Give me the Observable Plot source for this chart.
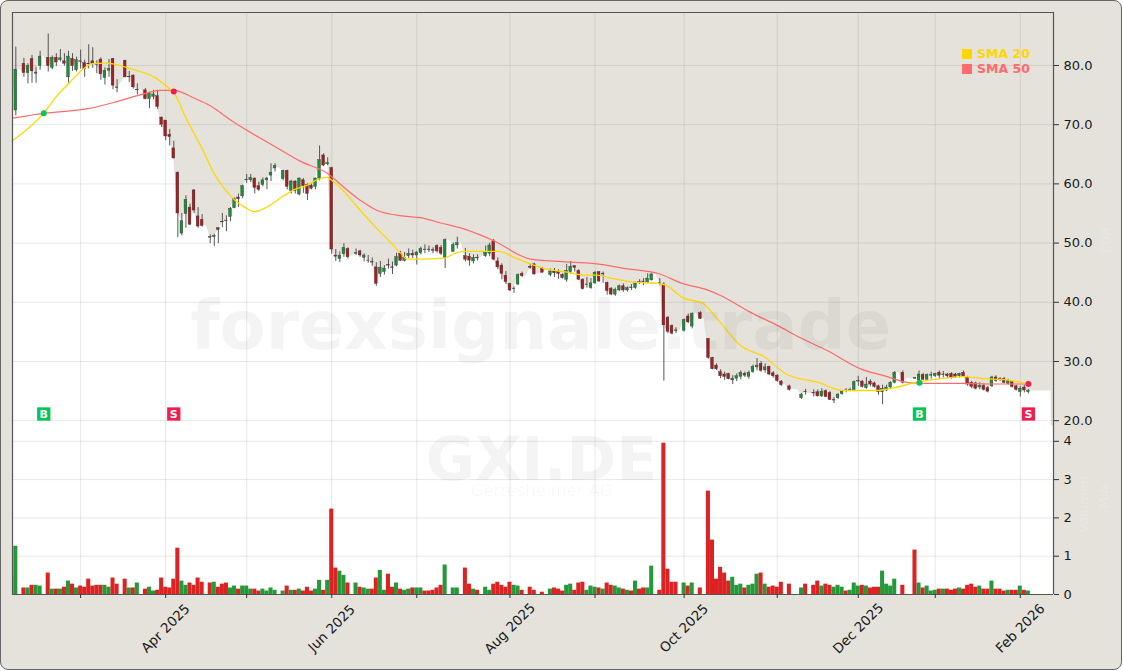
<!DOCTYPE html>
<html>
<head>
<meta charset="utf-8">
<script src="https://cdn.jsdelivr.net/npm/d3@7"></script>
<script src="https://cdn.jsdelivr.net/npm/@observablehq/plot@0.6"></script>
<style>
html,body{margin:0;padding:0;background:#fff;}
#chart{position:relative;width:1123px;height:671px;overflow:hidden;background:#fff;}
#panel{position:absolute;left:0;top:0;width:1120px;height:668px;background:#E5E2DC;border:1.5px solid #666;border-radius:8px;}
#chart svg{position:absolute;left:0;top:0;background:transparent;}
.lg{position:absolute;left:962px;font:bold 12.5px "DejaVu Sans",sans-serif;line-height:15px;white-space:pre;z-index:5;}
.lg i{display:inline-block;width:9.5px;height:10px;margin-right:5.5px;vertical-align:-1px;}
</style>
</head>
<body>
<div id="chart"><div id="panel"></div></div>
<script>
const opens = [
71.0,72.4,79.3,80.3,78.7,81.1,78.6,79.9,81.5,81.3,
79.6,81.3,80.9,80.7,78.0,81.1,79.2,80.7,80.4,80.3,
80.7,80.2,81.0,77.9,79.1,81.1,76.3,77.1,80.8,78.0,
78.3,75.8,75.9,75.8,74.3,74.7,74.8,71.2,70.7,68.3,
66.0,61.9,51.6,54.9,56.0,58.9,54.5,53.9,53.0,51.0,
51.0,52.5,53.6,53.8,54.4,55.9,57.7,57.9,60.6,60.6,
60.9,59.6,59.8,60.6,61.4,62.6,62.7,60.8,62.2,58.8,
60.4,58.2,60.6,59.8,59.7,59.5,60.9,64.8,63.3,62.7,
47.9,47.3,48.1,49.0,47.8,48.2,48.6,47.5,47.0,46.8,
45.9,44.8,45.1,46.3,45.9,46.2,48.2,47.0,47.8,48.2,
47.9,48.3,48.9,48.9,48.8,49.5,49.2,47.5,50.5,48.5,
49.6,50.0,47.8,47.7,46.9,47.5,47.6,47.8,48.2,50.3,
46.9,46.2,44.5,43.1,42.2,43.0,44.8,44.4,46.0,46.4,
44.8,45.7,45.4,44.6,45.2,45.1,44.6,43.8,45.1,46.1,
45.3,43.8,42.9,42.4,43.2,45.1,44.7,43.3,42.3,41.3,
42.0,42.7,42.0,42.5,42.4,43.4,43.5,43.3,43.7,44.7,
43.2,43.0,37.4,36.0,35.25,35.2,35.2,37.6,35.9,38.1,
38.2,37.2,33.8,30.6,29.3,28.2,27.8,27.9,26.8,27.1,
27.4,27.9,27.4,28.2,29.0,29.6,28.5,29.1,28.0,27.6,
26.6,26.1,25.8,25.3,25.2,23.8,24.9,24.5,24.7,24.8,
24.1,25.0,24.7,23.4,23.8,24.5,25.1,25.0,25.1,26.6,
26.6,25.5,26.6,26.3,25.8,24.8,25.1,25.6,26.4,28.1,
28.1,27.1,27.1,27.2,26.8,27.7,26.9,27.6,27.5,28.1,
27.7,27.8,27.9,27.8,27.5,28.1,27.2,26.4,26.3,25.6,
25.9,25.5,25.8,27.3,27.0,27.0,26.2,26.5,25.8,24.8,25.6,24.8];
const highs = [
72.4,83.1,79.3,81.2,80.3,81.7,79.7,82.4,81.5,85.3,
81.6,82.0,82.7,82.0,82.4,82.0,81.4,82.6,80.9,83.5,
83.0,80.8,81.3,79.6,81.0,81.2,77.6,77.1,80.9,79.0,
78.4,76.9,75.9,76.1,75.5,75.8,75.8,71.3,70.7,69.2,
67.2,62.0,55.0,58.0,56.6,59.0,56.0,54.8,53.0,51.4,
51.5,52.6,55.0,54.6,56.0,57.6,58.3,59.8,61.6,61.6,
61.0,60.3,61.0,61.1,63.4,63.4,62.7,62.3,62.3,60.6,
60.5,61.0,60.9,60.0,60.0,61.0,66.4,65.1,64.4,62.8,
48.9,48.5,49.9,49.2,47.8,49.0,48.8,48.2,47.9,47.5,
46.7,46.9,46.2,47.3,46.8,48.3,48.6,48.4,49.0,48.8,
48.6,49.3,49.7,49.5,49.2,49.7,49.6,50.7,50.5,50.0,
51.0,50.0,49.1,48.2,48.0,48.0,47.6,49.5,50.0,50.6,
47.5,46.5,45.2,43.2,42.6,44.8,45.1,44.4,46.5,46.6,
44.8,45.9,45.4,45.6,45.7,45.5,44.8,46.4,46.9,46.2,
45.5,44.0,44.2,44.0,45.2,45.2,45.1,43.4,42.5,42.4,
42.9,43.1,42.6,43.0,43.4,43.8,44.0,44.8,44.9,44.7,
44.0,43.3,37.6,36.2,35.7,35.2,37.2,38.0,38.2,38.1,
38.4,37.2,33.9,30.7,29.6,28.6,28.2,28.0,27.6,27.9,
28.4,28.2,28.4,29.4,30.5,30.0,29.6,29.2,28.3,27.8,
26.8,26.1,26.0,25.3,25.2,24.6,25.3,24.5,25.2,25.2,
25.4,25.2,24.9,23.9,24.6,25.1,25.4,25.5,26.7,27.5,
26.8,27.3,26.9,26.5,26.0,26.0,26.0,26.6,28.3,28.1,
28.4,27.1,27.1,27.3,28.4,28.0,27.9,28.2,28.0,28.4,
28.3,28.0,28.1,28.0,28.0,28.4,27.5,26.6,26.5,26.4,
26.2,25.8,27.5,27.6,27.3,27.3,27.0,26.7,26.0,25.8,26.0,25.3];
const lows = [
70.8,71.5,79.3,78.0,76.9,77.0,77.0,79.2,81.5,78.9,
79.3,79.8,80.6,79.9,77.0,79.0,78.9,79.4,78.0,79.4,
79.5,78.6,77.5,76.7,78.0,75.9,75.4,77.1,77.9,77.1,
76.0,75.0,75.9,74.2,72.7,74.2,72.6,69.5,67.3,66.4,
64.2,50.9,51.2,52.5,53.0,55.0,52.5,52.7,53.0,49.9,
49.4,49.9,52.6,51.9,53.6,55.8,56.0,57.5,60.1,60.2,
58.3,58.7,59.5,59.0,60.4,62.0,62.7,60.5,59.0,58.3,
58.3,58.0,58.4,57.2,59.0,59.0,60.5,62.9,63.1,48.1,
46.9,46.7,47.6,47.3,47.8,47.9,47.6,46.8,46.6,46.1,
42.7,44.2,44.6,45.6,44.7,46.0,46.9,46.8,47.4,47.4,
46.3,48.0,48.2,48.4,48.2,48.3,47.9,45.7,50.5,48.5,
49.0,50.0,46.8,46.1,46.5,47.0,47.6,47.6,47.7,47.0,
45.5,43.8,43.0,41.8,41.5,42.8,44.2,44.4,45.6,44.6,
44.8,44.9,45.4,44.3,44.2,43.9,43.9,43.4,44.7,45.1,
43.7,42.1,42.4,42.2,43.0,43.4,43.2,41.2,41.1,41.0,
41.8,41.7,41.7,42.0,42.2,43.0,42.8,43.1,43.6,44.7,
42.8,26.7,34.7,34.5,34.7,35.2,35.0,36.4,35.5,38.1,
37.1,37.2,30.4,28.6,28.5,27.1,26.8,26.9,26.1,26.6,
26.9,27.3,27.0,28.0,28.4,28.2,28.0,27.6,27.2,26.5,
25.8,26.1,25.0,25.3,25.2,23.6,24.3,24.5,24.0,24.0,
23.9,23.9,23.4,22.9,23.6,24.3,24.7,24.9,24.9,25.8,
25.5,25.3,25.7,25.5,24.3,22.7,24.9,25.4,26.2,28.1,
26.2,27.1,27.1,27.0,26.4,26.8,26.8,27.0,27.3,27.0,
27.2,27.1,27.0,27.2,27.2,27.3,25.8,25.4,25.2,25.2,
25.0,24.7,25.6,26.5,26.6,26.2,26.0,25.5,25.0,24.0,24.7,24.5];
const closes = [
72.2,79.3,79.3,78.7,79.9,79.0,78.8,81.5,81.5,79.9,
81.3,80.5,81.2,80.3,81.5,79.9,80.9,80.6,79.4,80.2,
80.2,80.1,78.5,79.1,79.4,76.6,76.2,77.1,78.0,78.1,
76.3,75.9,75.9,74.3,75.2,75.1,73.0,70.0,68.0,67.9,
64.3,55.0,53.7,57.3,53.1,55.5,52.8,52.9,53.0,50.9,
51.2,52.2,53.5,53.7,55.8,57.4,57.4,59.6,60.7,61.0,
59.3,59.0,60.6,60.9,61.9,63.0,62.7,62.2,59.5,60.4,
58.8,60.9,59.6,58.3,59.2,60.9,64.0,63.1,63.5,48.9,
47.7,47.9,49.2,47.6,47.8,48.3,47.9,47.9,47.05,46.7,
43.1,45.8,45.7,46.2,45.8,47.6,47.0,47.5,48.2,47.9,
48.4,49.0,48.8,48.8,48.7,48.6,48.2,50.5,50.5,49.7,
50.0,50.0,47.2,47.05,47.5,47.4,47.6,48.4,49.6,47.2,
45.9,44.8,43.4,42.0,42.3,44.6,44.4,44.4,45.8,44.7,
44.8,45.0,45.4,45.2,44.9,44.8,44.1,45.3,46.0,45.8,
43.8,42.2,43.0,43.2,45.0,43.5,44.8,41.9,41.3,42.1,
42.7,42.0,42.4,42.4,43.2,43.3,43.4,44.0,44.7,44.7,
43.1,36.1,35.0,34.7,35.15,35.2,37.0,36.6,38.0,38.1,
37.2,37.2,30.6,28.7,28.7,27.5,27.4,27.0,27.1,27.5,
28.1,27.6,28.1,29.1,29.3,28.4,29.0,27.8,27.5,26.7,
26.0,26.1,25.2,25.3,25.2,24.4,24.8,24.5,24.6,24.1,
24.9,24.0,23.5,23.5,24.4,24.9,25.0,25.2,26.5,26.7,
25.7,26.1,26.1,25.7,24.8,25.4,25.6,26.4,28.1,28.1,
26.4,27.1,27.1,27.1,27.8,26.9,27.7,27.7,27.9,27.6,
27.8,27.5,27.2,27.4,27.9,27.4,26.1,25.7,25.4,25.9,
25.2,24.9,27.3,26.7,26.9,26.4,26.7,25.7,25.2,25.4,25.1,25.0];
const volumes = [
.48,1.26,0,.17,.17,.24,.24,.22,0,.56,
.14,.14,.14,.19,.35,.27,.17,.22,.19,.4,
.22,.24,.24,.24,.19,.43,.27,0,.4,.17,
.17,.3,0,.14,.19,.09,.11,.43,.19,.17,
.4,1.21,.35,.24,.3,.24,.43,.32,0,.3,
.32,.19,.27,.3,.17,.22,.14,.22,.22,.14,
.14,.09,.14,.09,.17,.11,0,.09,.22,.11,
.11,.14,.09,.19,.09,.14,.37,.11,.37,2.23,
.69,.61,.5,.3,0,.3,.19,.17,.14,.14,
.43,.63,.11,.53,.19,.3,.14,.11,.14,.17,
.17,.17,.09,.09,.11,.17,.24,.77,0,.17,
.17,0,.69,.27,.14,.11,0,.19,.11,.27,
.32,.24,.19,.32,.24,.22,.11,0,.19,.11,
0,.06,0,.14,.17,.14,.09,.24,.27,.11,
.3,.32,.11,.22,.19,.17,.14,.3,.24,.22,
.17,.14,.11,.09,.35,.14,.17,.17,.74,0,
.11,3.95,.66,.32,.32,0,.3,.22,.3,0,
.17,0,2.7,1.42,.4,.71,.56,.35,.45,.24,
.27,.17,.24,.27,.53,.56,.27,.19,.22,.19,
.32,0,.27,0,0,.17,.27,0,.24,.35,
.22,.27,.24,.19,.24,.19,.09,.11,.3,.22,
.24,.22,.17,.19,.19,.61,.27,.22,.4,0,
.24,0,0,1.16,.3,.17,.22,.09,.11,.14,
.14,.14,.11,.14,.17,.14,.24,.27,.19,.22,
.14,.14,.35,.14,.14,.09,.11,.11,.11,.22,.11,.09];

const sma20Index = [0,7.9,11.2,14.1,17.8,19.8,23.5,25.6,30.1,35.5,38,40,43.3,46.6,50,52.4,55.2,57.7,59.9,63,67.2,69.6,73,75.4,77.9,79.5,81.2,85.3,89.4,93.5,96,97.6,100.9,106.7,109.2,111.6,116.6,120.3,124,128,132.2,137.1,141.3,144.5,147.8,153.6,159.4,161.4,165.9,170.5,174.2,179.9,185.7,191.4,198.9,205.4,213.7,217.8,223.5,229.3,235,240,244.9,251.1];
const sma20Value = [67.2,71.95,74.9,77,79.5,80.3,80.4,80.2,79.3,77.9,76.6,75.4,70.7,66.5,61.7,59.3,57.2,56,55.3,56.1,58,59,59.8,60.7,61.1,60.3,59.3,56.1,53,50.15,48.3,47.3,47.3,47.45,48.2,48.6,48.6,48.6,47.6,46.5,45.6,45.1,44.6,44.6,44.1,43.4,43.2,42.9,40.7,39.85,37.2,32.7,30.85,27.8,26.5,25.1,25.1,25.55,26.5,27.1,27.45,27.1,26.95,26.2];
const sma50Index = [0.3,7.9,18.8,26,32.6,36.7,40,45,49,54,58.9,64.7,71.3,78.3,81.2,86.1,90.2,96.8,100.9,105.9,111.6,119,128.1,138,144.5,152,159.4,165.9,171.7,175,182.4,189,194.7,201.3,209.6,215.3,221.9,227.7,235,241.6,251.1];
const sma50Value = [71.1,71.9,72.7,73.9,75.2,75.8,75.8,74.5,73.2,70.8,68.7,66.4,63.8,61.6,59.9,57.2,55.5,54.55,54.3,53.4,52.4,50.4,47.3,46.8,46.5,45.65,44.9,43.1,42.1,41.15,38.3,36.1,34,31.85,28.75,27.6,26.4,26.3,26.3,26.2,26.2];

const signalIndex = [7.9,40,224.1,251];
const signalPrice = [71.95,75.6,26.4,26.2];
const signalLabel = ["B","S","B","S"];
const signalRow = 21.13;

const monthIndex = [17,38,58,79,100,123,144,166,189,209,228,249];
const monthLabel = ["","Apr 2025","","Jun 2025","","Aug 2025","","Oct 2025","","Dec 2025","","Feb 2026"];
const priceTicks = [20,30,40,50,60,70,80];
const volumeTicks = [0,1,2,3,4];

const colors = {up:"#1B8F35",down:"#A51E22",volUp:"#1E9632",volDown:"#DB1C1C",wick:"#444",sma20:"#FFD700",sma50:"#FF6B6B",buy:"#00C853",sell:"#F01E4E",grid:"#8c8c8c"};

const candles = opens.map((o,i)=>({i,o,h:highs[i],l:lows[i],c:closes[i],v:volumes[i],up:closes[i]>=o}));
const envelope = candles.map(d=>({i:d.i,c:d.c})).concat([{i:256.6,c:closes[closes.length-1]}]);
const sma20 = sma20Index.map((i,k)=>({i,v:sma20Value[k]}));
const sma50 = sma50Index.map((i,k)=>({i,v:sma50Value[k]}));
const signals = signalIndex.map((i,k)=>({i,p:signalPrice[k],t:signalLabel[k],row:signalRow}));
const FONT = '"DejaVu Sans",sans-serif';

const base = {
  width:1123,height:671,marginLeft:12,marginRight:70,marginTop:12,marginBottom:77,
  style:{background:"transparent",fontFamily:FONT,fontSize:"13px",overflow:"visible"},
  x:{type:"linear",domain:[0.18,257.2],axis:null}
};

const pricePlot = Plot.plot({
  ...base,
  y:{domain:[-9.36,88.95],axis:null},
  marks:[
    Plot.areaY(envelope,{x:"i",y1:-9.36,y2:"c",fill:"#fff",clip:true}),
    Plot.ruleX(monthIndex,{stroke:colors.grid,strokeOpacity:.2,strokeWidth:1}),
    Plot.ruleY(priceTicks,{stroke:colors.grid,strokeOpacity:.2,strokeWidth:1}),
    Plot.ruleX(candles,{x:"i",y1:"l",y2:"h",stroke:colors.wick,strokeWidth:.9,clip:true}),
    Plot.rect(candles,{x1:d=>d.i-.34,x2:d=>d.i+.34,y1:"o",y2:"c",fill:d=>d.up?colors.up:colors.down,stroke:"#3a3a3a",strokeWidth:.4,clip:true}),
    Plot.line(sma50,{x:"i",y:"v",stroke:colors.sma50,strokeWidth:1.2,curve:"monotone-x"}),
    Plot.line(sma20,{x:"i",y:"v",stroke:colors.sma20,strokeWidth:1.3,curve:"monotone-x"}),
    Plot.dot(signals,{x:"i",y:"p",r:3,fill:d=>d.t==="B"?colors.buy:colors.sell}),
    Plot.dot(signals,{x:"i",y:"row",symbol:"square",r:7.5,fill:d=>d.t==="B"?colors.buy:colors.sell}),
    Plot.text(signals,{x:"i",y:"row",text:"t",fill:"#fff",fontWeight:"bold",fontSize:11,fontFamily:FONT})
  ]
});

const volumePlot = Plot.plot({
  ...base,
  y:{domain:[0,15.196],axis:null},
  marks:[
    Plot.rectY([0],{x1:0.18,x2:257.2,y1:0,y2:4.4,fill:"#fff"}),
    Plot.ruleX(monthIndex,{y1:0,y2:4.4,stroke:colors.grid,strokeOpacity:.2,strokeWidth:1}),
    Plot.ruleY(volumeTicks,{x1:0.18,x2:257.2,stroke:colors.grid,strokeOpacity:.2,strokeWidth:1}),
    Plot.rectY(candles.filter(d=>d.v>0),{x1:d=>Math.max(0.18,d.i-.5),x2:d=>d.i+.5,y1:0,y2:"v",fill:d=>d.up?colors.volUp:colors.volDown,fillOpacity:.97}),
    Plot.text(["forexsignale.trade"],{x:130.6,y:6.97,text:d=>d,fill:"#000",fillOpacity:.045,fontWeight:"bold",fontSize:67.3,fontFamily:FONT}),
    Plot.text(["GXI.DE"],{x:130.8,y:3.5,text:d=>d,fill:"#000",fillOpacity:.045,fontWeight:"bold",fontSize:60,fontFamily:FONT}),
    Plot.text(["Gerresheimer AG"],{x:130.8,y:2.72,text:d=>d,fill:"#000",fillOpacity:.035,fontSize:16.5,fontFamily:FONT}),
    Plot.ruleX([0.18,257.2],{y1:0,y2:15.196,stroke:"#555",strokeWidth:1.2}),
    Plot.ruleY([15.196],{x1:0.18,x2:257.2,stroke:"#555",strokeWidth:1.2}),
    Plot.ruleY([0],{x1:0.18,x2:257.2,stroke:"#555",strokeWidth:1.2}),
    Plot.axisX({anchor:"bottom",ticks:monthIndex,tickFormat:d=>monthLabel[monthIndex.indexOf(d)],tickSize:4,tickPadding:30,tickRotate:-45,fontSize:13.5,fontFamily:FONT,fill:"#1a1a1a",stroke:"#333",textAnchor:"middle",lineAnchor:"middle",label:null}),
    Plot.axisY(volumeTicks,{anchor:"right",tickFormat:d=>String(d),tickSize:5,tickPadding:5,fontSize:13,fontFamily:FONT,fill:"#1a1a1a",stroke:"#333",label:null}),
    Plot.text(["Volumen"],{x:257.2,y:2.35,text:d=>d,dx:30,rotate:-90,fill:"#fff",fillOpacity:.2,fontSize:13,fontFamily:FONT}),
    Plot.text(["Mio."],{x:257.2,y:2.6,text:d=>d,dx:50,rotate:-90,fill:"#fff",fillOpacity:.2,fontSize:13,fontFamily:FONT})
  ]
});

const priceAxis = Plot.plot({
  ...base,
  y:{domain:[-9.36,88.95],axis:null},
  marks:[
    Plot.axisY(priceTicks,{anchor:"right",tickFormat:d=>d.toFixed(1),tickSize:5,tickPadding:5,fontSize:13,fontFamily:FONT,fill:"#1a1a1a",stroke:"#333",label:null}),
    Plot.text(["EUR"],{x:257.2,y:50.5,text:d=>d,dx:52,rotate:-90,fill:"#fff",fillOpacity:.2,fontSize:13,fontFamily:FONT})
  ]
});

const chart = document.getElementById("chart");
chart.appendChild(pricePlot);
chart.appendChild(volumePlot);
chart.appendChild(priceAxis);

const legendEntries = [["SMA 20",colors.sma20,45.5],["SMA 50",colors.sma50,61]];
for (const [label,color,top] of legendEntries){
  const el = document.createElement("div");
  el.className = "lg";
  el.style.top = top+"px";
  el.style.color = color;
  el.innerHTML = `<i style="background:${color}"></i>${label}`;
  chart.appendChild(el);
}
</script>
</body>
</html>
